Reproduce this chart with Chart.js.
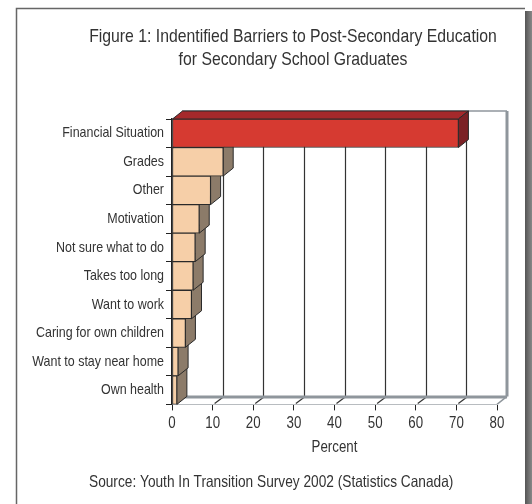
<!DOCTYPE html>
<html><head><meta charset="utf-8">
<script src="https://cdn.jsdelivr.net/npm/chart.js@4"></script>
<style>html,body{margin:0;padding:0;background:#fff;}canvas{display:block;}</style>
</head><body>
<canvas id="c" width="532" height="504"></canvas>
<script>
// ---- data ----
const categories = ['Financial Situation','Grades','Other','Motivation','Not sure what to do','Takes too long','Want to work','Caring for own children','Want to stay near home','Own health'];
const percentValues = [70.5, 12.6, 9.5, 6.7, 5.7, 5.2, 4.8, 3.3, 1.5, 1.2];
const xTickValues = [0,10,20,30,40,50,60,70,80];
const titleLines = ['Figure 1: Indentified Barriers to Post-Secondary Education','for Secondary School Graduates'];
const xAxisTitle = 'Percent';
const sourceNote = 'Source: Youth In Transition Survey 2002 (Statistics Canada)';

// ---- style ----
const FONT = "'Liberation Sans',Arial,sans-serif";
const NARROW = 0.83; // horizontal squeeze to mimic the condensed typeface of the original
const DX = 10, DY = 8;
const styleHi = {front:'#d63a31', top:'#a5292b', side:'#7b2125'};
const styleLo = {front:'#f6cfa8', top:'#d9b48f', side:'#8c7b69'};
const EDGE = '#2a2a2a';
const WALL = '#8f969c';

// condensed text rendering (anchor point is kept, glyphs are narrowed)
(function () {
  const P = CanvasRenderingContext2D.prototype;
  const orig = P.fillText;
  P.fillText = function (t, x, y, mw) {
    this.save();
    this.translate(x, y);
    this.scale(NARROW, 1);
    if (mw !== undefined && mw !== null) orig.call(this, t, 0, 0, mw / NARROW);
    else orig.call(this, t, 0, 0);
    this.restore();
  };
})();

Chart.defaults.font.family = FONT;
Chart.defaults.color = '#333';

function poly(ctx, pts, fill) {
  ctx.beginPath();
  ctx.moveTo(pts[0][0], pts[0][1]);
  for (let i = 1; i < pts.length; i++) ctx.lineTo(pts[i][0], pts[i][1]);
  ctx.closePath();
  if (fill) { ctx.fillStyle = fill; ctx.fill(); }
  ctx.strokeStyle = EDGE; ctx.lineWidth = 1; ctx.stroke();
}

const threeD = {
  id: 'threeD',
  beforeDraw(chart) {
    const ctx = chart.ctx, ca = chart.chartArea, xs = chart.scales.x;
    ctx.save();
    ctx.fillStyle = '#fff'; ctx.fillRect(0, 0, chart.width, chart.height);
    // frame
    ctx.strokeStyle = '#666'; ctx.lineWidth = 1.5;
    ctx.beginPath(); ctx.moveTo(16.5, 504); ctx.lineTo(16.5, 8.5); ctx.lineTo(525, 8.5); ctx.stroke();
    const g = ctx.createLinearGradient(525, 0, 532, 0);
    g.addColorStop(0, '#555'); g.addColorStop(1, '#888');
    ctx.fillStyle = g; ctx.fillRect(525, 11, 7, 493);
    // back wall gridlines
    const x0 = xs.getPixelForValue(xTickValues[0]);
    const xN = xs.getPixelForValue(xTickValues[xTickValues.length-1]);
    ctx.strokeStyle = '#333'; ctx.lineWidth = 1.2;
    for (let i = 1; i < xTickValues.length - 1; i++) {
      const px = Math.round(xs.getPixelForValue(xTickValues[i])) + DX + 0.5;
      ctx.beginPath(); ctx.moveTo(px, ca.top - DY); ctx.lineTo(px, ca.bottom - DY); ctx.stroke();
      const bx = xs.getPixelForValue(xTickValues[i]);
      ctx.beginPath(); ctx.moveTo(bx + 2, ca.bottom - 1); ctx.lineTo(bx + DX, ca.bottom - DY + 1); ctx.stroke();
    }
    // walls
    ctx.strokeStyle = WALL; ctx.lineWidth = 1.5;
    ctx.beginPath(); ctx.moveTo(x0 + DX, ca.top - DY); ctx.lineTo(xN + DX, ca.top - DY); ctx.stroke();
    ctx.lineWidth = 3;
    ctx.beginPath(); ctx.moveTo(xN + DX, ca.top - DY); ctx.lineTo(xN + DX, ca.bottom - DY); ctx.stroke();
    ctx.beginPath(); ctx.moveTo(x0 + DX, ca.bottom - DY + 0.5); ctx.lineTo(xN + DX, ca.bottom - DY + 0.5); ctx.stroke();
    ctx.lineWidth = 1.5;
    ctx.beginPath(); ctx.moveTo(xN, ca.bottom); ctx.lineTo(xN + DX, ca.bottom - DY); ctx.stroke();
    ctx.restore();
  },
  beforeDatasetsDraw(chart) {
    const ctx = chart.ctx;
    const meta = chart.getDatasetMeta(0);
    ctx.save();
    for (let i = meta.data.length - 1; i >= 0; i--) {
      const {x, y, base, height} = meta.data[i].getProps(['x','y','base','height'], true);
      const s = i === 0 ? styleHi : styleLo;
      const t = y - height / 2, b = y + height / 2;
      poly(ctx, [[base, t], [x, t], [x + DX, t - DY], [base + DX, t - DY]], s.top);
      poly(ctx, [[x, t], [x + DX, t - DY], [x + DX, b - DY], [x, b]], s.side);
    }
    ctx.restore();
  }
};

new Chart(document.getElementById('c'), {
  type: 'bar',
  data: {
    labels: categories,
    datasets: [{
      data: percentValues,
      backgroundColor: ctx => ctx.dataIndex === 0 ? styleHi.front : styleLo.front,
      borderColor: EDGE,
      borderWidth: 1,
      borderSkipped: false,
      barPercentage: 1,
      categoryPercentage: 1
    }]
  },
  options: {
    indexAxis: 'y',
    responsive: false,
    animation: false,
    layout: { padding: { left: 89, right: 35, top: 0, bottom: 0 } },
    plugins: {
      legend: { display: false },
      tooltip: { enabled: false },
      title: {
        display: true, text: titleLines, align: 'center', color: '#333',
        font: { size: 19, weight: 'normal', lineHeight: 1.2 },
        padding: { top: 25.6, bottom: 47.8 }
      },
      subtitle: {
        display: true, text: sourceNote, position: 'bottom', align: 'start', color: '#333',
        font: { size: 16.5, weight: 'normal', lineHeight: 1.2 },
        padding: { top: 16, bottom: 11.2 }
      }
    },
    scales: {
      x: {
        min: xTickValues[0], max: xTickValues[xTickValues.length - 1],
        afterBuildTicks: axis => { axis.ticks = xTickValues.map(v => ({ value: v })); },
        afterFit: axis => { axis.height = 52.6; },
        grid: { drawOnChartArea: false, drawTicks: true, tickLength: 6, color: '#222' },
        border: { display: true, color: '#b8bcc0', width: 1 },
        ticks: { padding: 4, color: '#333', font: { size: 16 } },
        title: { display: true, text: xAxisTitle, color: '#333', font: { size: 16, lineHeight: 1.2 }, padding: { top: 0, bottom: 0 } }
      },
      y: {
        afterFit: axis => { axis.width = 83; axis._computeLabelArea = () => undefined; },
        grid: { drawOnChartArea: false, drawTicks: true, tickLength: 6, color: '#222', offset: true },
        border: { display: true, color: '#222', width: 1.5 },
        ticks: { padding: 2, color: '#333', font: { size: 15 } }
      }
    }
  },
  plugins: [threeD]
});
</script>
</body></html>
